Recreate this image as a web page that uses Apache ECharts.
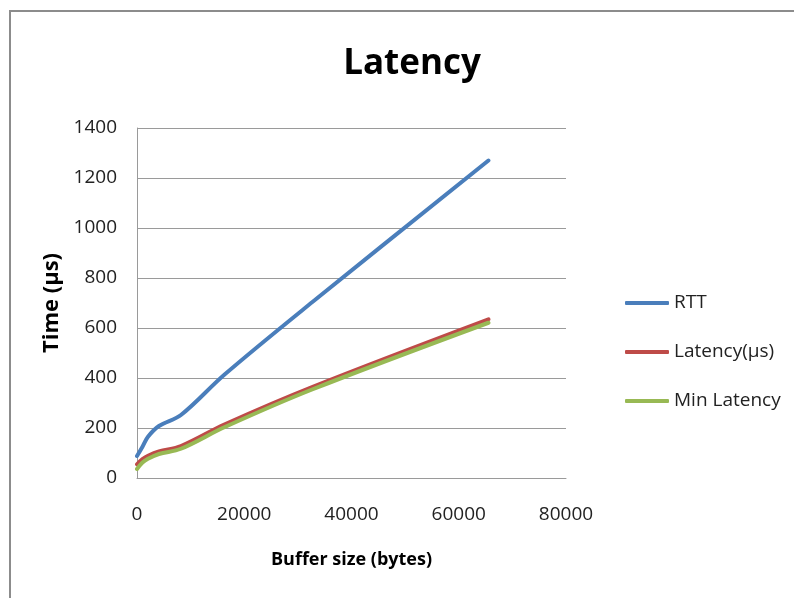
<!DOCTYPE html>
<html>
<head>
<meta charset="utf-8">
<script src="https://cdn.jsdelivr.net/npm/echarts@6/dist/echarts.min.js"></script>
<style>
  html, body { margin: 0; padding: 0; background: #fff; }
  #chart { width: 794px; height: 598px; }
</style>
</head>
<body>
<div id="chart"></div>
<script>
// buffer sizes in bytes
const bufferSizes = [1, 1024, 2048, 4096, 8192, 16384, 32768, 65536]
const rtt        = [88, 125, 165, 208, 252, 415, 705, 1270]
const latency    = [55, 76, 89, 106, 128, 215, 365, 635]
const minLatency = [36, 62, 77, 96, 117, 204, 355, 621]

const xTicks = [0, 20000, 40000, 60000, 80000]
const yTicks = [0, 200, 400, 600, 800, 1000, 1200, 1400]

const FONT = '"Open Sans", "Noto Sans", sans-serif'

const pairs = ys => bufferSizes.map((x, i) => [x, ys[i]])

const chart = echarts.init(document.getElementById('chart'), null, { renderer: 'canvas' })

chart.setOption({
  backgroundColor: '#ffffff',
  animation: false,
  title: {
    text: 'Latency',
    left: 407,
    top: 42,
    textAlign: 'center',
    textStyle: { fontFamily: FONT, fontSize: 35, fontWeight: 'bold', color: '#000' },
  },
  grid: { left: 137, right: 228, top: 128, bottom: 120 },
  legend: {
    orient: 'vertical',
    left: 620,
    top: 288,
    itemWidth: 44,
    itemHeight: 4,
    itemGap: 29,
    icon: 'roundRect',
    textStyle: { fontFamily: FONT, fontSize: 19, color: '#222', lineHeight: 20 },
    data: ['RTT', 'Latency(µs)', 'Min Latency'],
  },
  xAxis: {
    type: 'value',
    min: xTicks[0],
    max: xTicks[xTicks.length - 1],
    interval: 20000,
    name: 'Buffer size (bytes)',
    nameLocation: 'middle',
    nameGap: 73,
    nameTextStyle: { fontFamily: FONT, fontSize: 18, fontWeight: 'bold', color: '#000' },
    axisLine: { lineStyle: { color: '#9a9a9a', width: 1 } },
    axisTick: { show: false },
    splitLine: { show: false },
    axisLabel: { fontFamily: FONT, fontSize: 19, color: '#222', margin: 27, formatter: v => String(v) },
  },
  yAxis: {
    type: 'value',
    min: yTicks[0],
    max: yTicks[yTicks.length - 1],
    interval: 200,
    name: 'Time (µs)',
    nameLocation: 'middle',
    nameGap: 70,
    nameTextStyle: { fontFamily: FONT, fontSize: 22, fontWeight: 'bold', color: '#000' },
    axisLine: { show: true, lineStyle: { color: '#9a9a9a', width: 1 } },
    axisTick: { show: false },
    splitLine: { lineStyle: { color: '#9a9a9a', width: 1 } },
    axisLabel: { fontFamily: FONT, fontSize: 19, color: '#222', margin: 20, formatter: v => String(v) },
  },
  series: [
    {
      name: 'RTT', type: 'line', smooth: 0.35, symbol: 'none',
      lineStyle: { width: 4, color: '#4a7ebb', cap: 'round' },
      itemStyle: { color: '#4a7ebb' },
      data: pairs(rtt),
    },
    {
      name: 'Latency(µs)', type: 'line', smooth: 0.35, symbol: 'none',
      lineStyle: { width: 4, color: '#be4b48', cap: 'round' },
      itemStyle: { color: '#be4b48' },
      data: pairs(latency),
    },
    {
      name: 'Min Latency', type: 'line', smooth: 0.35, symbol: 'none',
      lineStyle: { width: 4, color: '#98b954', cap: 'round' },
      itemStyle: { color: '#98b954' },
      data: pairs(minLatency),
    },
  ],
  graphic: [
    {
      type: 'polyline',
      silent: true,
      shape: { points: [[10, 598], [10, 11], [794, 11]] },
      style: { stroke: '#8c8c8c', lineWidth: 2, fill: null },
    },
  ],
})
</script>
</body>
</html>
